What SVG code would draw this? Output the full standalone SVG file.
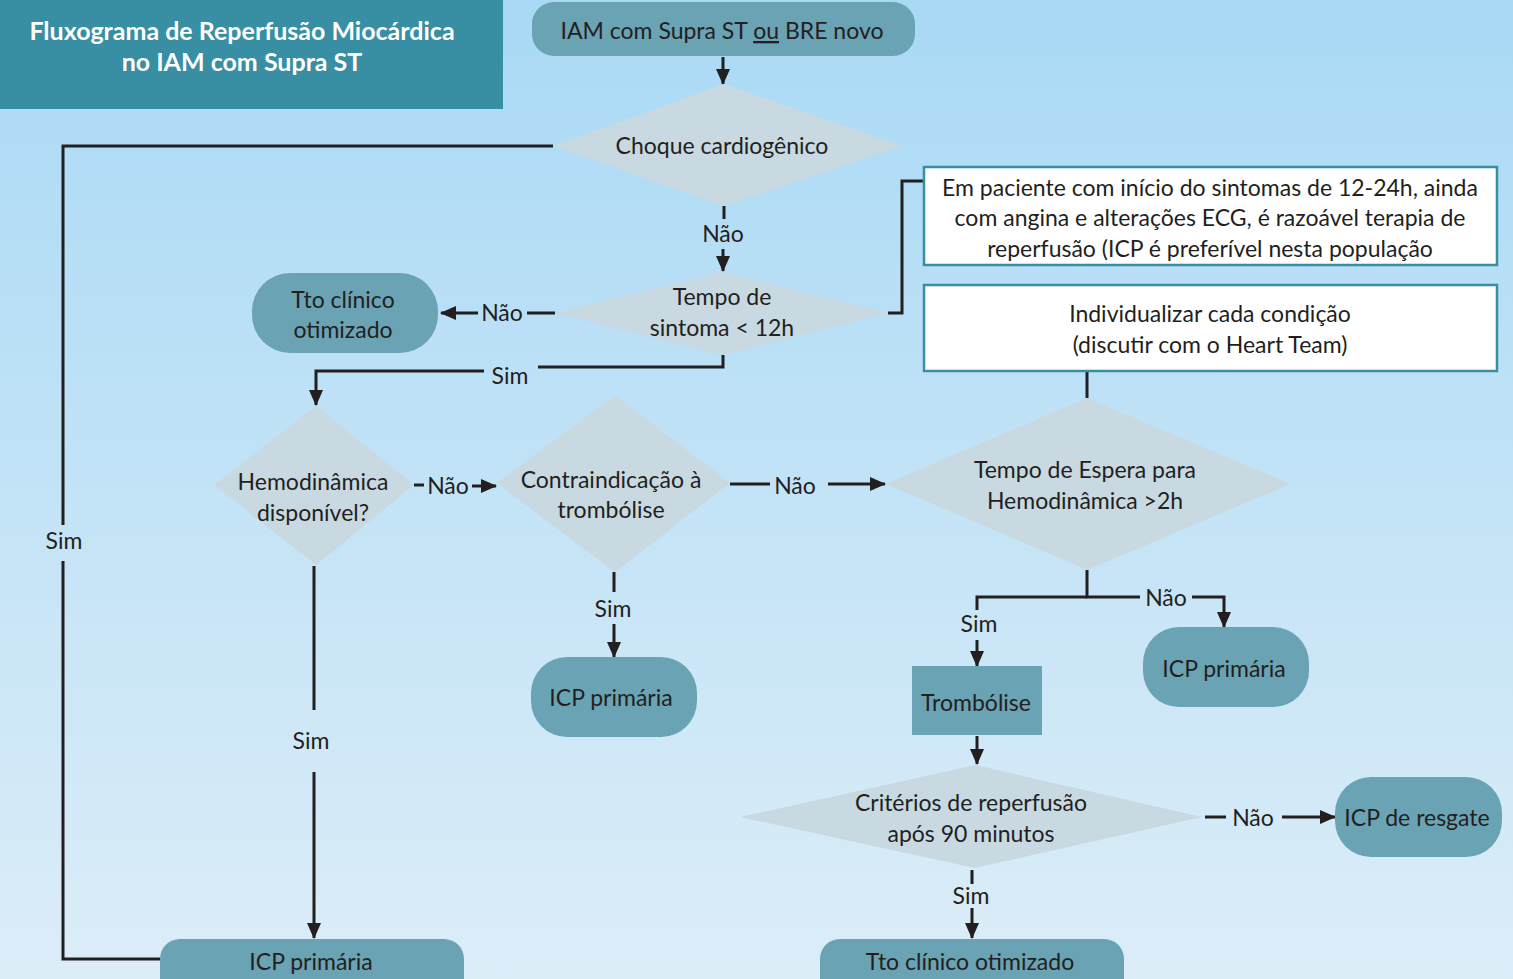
<svg xmlns="http://www.w3.org/2000/svg" width="1513" height="979" viewBox="0 0 1513 979">
<defs>
<linearGradient id="bg" x1="0" y1="0" x2="0" y2="1">
<stop offset="0" stop-color="#a9d9f5"/>
<stop offset="1" stop-color="#dcedf8"/>
</linearGradient>
<marker id="ah" markerWidth="16" markerHeight="16" refX="15" refY="8" orient="auto" markerUnits="userSpaceOnUse">
<path d="M0,1 L16,8 L0,15 Z" fill="#231f20"/>
</marker>
</defs>
<style>
text{font-family:Lato,"Open Sans","Liberation Sans",sans-serif;font-size:23px;fill:#231f20;text-anchor:middle}
.title{fill:#fff;font-weight:bold;font-size:25px}
.term{fill:#6aa3b4}
.dec{fill:#c8d9e1}
.note{fill:#fff;stroke:#3a8ea3;stroke-width:2.5}
.ln{fill:none;stroke:#231f20;stroke-width:3}
.ar{fill:none;stroke:#231f20;stroke-width:3;marker-end:url(#ah)}
</style>
<rect width="1513" height="979" fill="url(#bg)"/>
<g id="title">
<rect x="0" y="0" width="503" height="109" fill="#388ea3"/>
<text class="title" x="242" y="40">Fluxograma de Reperfusão Miocárdica</text>
<text class="title" x="242" y="71">no IAM com Supra ST</text>
</g>
<g id="connectors">
<path class="ar" d="M723,57 V84"/>
<path class="ln" d="M553,146 H63 V525"/>
<path class="ln" d="M63,561 V959 H160"/>
<path class="ln" d="M724,206 V219"/>
<path class="ar" d="M723,249 V271"/>
<path class="ln" d="M555,313 H527"/>
<path class="ar" d="M478,313 H441"/>
<path class="ln" d="M888,313 H902 V181 H924"/>
<path class="ln" d="M1087,371 V398"/>
<path class="ln" d="M723,355 V367 H538"/>
<path class="ar" d="M484,371 H316 V405"/>
<path class="ln" d="M414,485 H424"/>
<path class="ar" d="M472,486 H496"/>
<path class="ln" d="M730,484 H770"/>
<path class="ar" d="M828,484 H885"/>
<path class="ln" d="M314,566 V710"/>
<path class="ar" d="M314,772 V938"/>
<path class="ln" d="M614,572 V592"/>
<path class="ar" d="M614,624 V657"/>
<path class="ln" d="M1087,570 V597 H1140"/>
<path class="ar" d="M1192,597 H1224 V627"/>
<path class="ln" d="M1087,597 H977 V610"/>
<path class="ar" d="M977,640 V666"/>
<path class="ar" d="M977,736 V764"/>
<path class="ln" d="M1205,817 H1226"/>
<path class="ar" d="M1282,817 H1335"/>
<path class="ln" d="M972,870 V884"/>
<path class="ar" d="M972,908 V938"/>
</g>
<g id="labels">
<text x="723" y="242">Não</text>
<text x="502" y="321">Não</text>
<text x="510" y="384">Sim</text>
<text x="448" y="494">Não</text>
<text x="795" y="494">Não</text>
<text x="64" y="549">Sim</text>
<text x="311" y="749">Sim</text>
<text x="613" y="617">Sim</text>
<text x="1166" y="606">Não</text>
<text x="979" y="632">Sim</text>
<text x="1253" y="826">Não</text>
<text x="971" y="904">Sim</text>
</g>
<g id="start">
<rect class="term" x="532" y="2" width="383" height="54" rx="22"/>
<text x="722" y="39">IAM com Supra ST <tspan text-decoration="underline">ou</tspan> BRE novo</text>
</g>
<g id="choque">
<polygon class="dec" points="724,84 902,146 724,206 553,146"/>
<text x="722" y="154">Choque cardiogênico</text>
</g>
<g id="tempo-sintoma">
<polygon class="dec" points="723,272 888,313 723,355 555,313"/>
<text x="722" y="305">Tempo de</text>
<text x="722" y="336">sintoma &lt; 12h</text>
</g>
<g id="tto-clinico-1">
<rect class="term" x="252" y="273" width="186" height="80" rx="38"/>
<text x="343" y="308">Tto clínico</text>
<text x="343" y="338">otimizado</text>
</g>
<g id="nota-12-24h">
<rect class="note" x="924" y="167" width="573" height="98"/>
<text x="1210" y="196">Em paciente com início do sintomas de 12-24h, ainda</text>
<text x="1210" y="226">com angina e alterações ECG, é razoável terapia de</text>
<text x="1210" y="257">reperfusão (ICP é preferível nesta população</text>
</g>
<g id="nota-individualizar">
<rect class="note" x="924" y="285" width="573" height="86"/>
<text x="1210" y="322">Individualizar cada condição</text>
<text x="1210" y="353">(discutir com o Heart Team)</text>
</g>
<g id="hemodinamica">
<polygon class="dec" points="316,406 414,485 316,565 214,485"/>
<text x="313" y="490">Hemodinâmica</text>
<text x="313" y="521">disponível?</text>
</g>
<g id="contraindicacao">
<polygon class="dec" points="615,395 730,483 615,572 497,483"/>
<text x="611" y="488">Contraindicação à</text>
<text x="611" y="518">trombólise</text>
</g>
<g id="tempo-espera">
<polygon class="dec" points="1087,398 1290,484 1087,570 886,484"/>
<text x="1085" y="478">Tempo de Espera para</text>
<text x="1085" y="509">Hemodinâmica &gt;2h</text>
</g>
<g id="icp-primaria-1">
<rect class="term" x="160" y="939" width="304" height="60" rx="20"/>
<text x="311" y="970">ICP primária</text>
</g>
<g id="icp-primaria-2">
<rect class="term" x="531" y="657" width="166" height="80" rx="36"/>
<text x="611" y="706">ICP primária</text>
</g>
<g id="icp-primaria-3">
<rect class="term" x="1143" y="627" width="166" height="80" rx="36"/>
<text x="1224" y="677">ICP primária</text>
</g>
<g id="trombolise">
<rect class="term" x="912" y="666" width="130" height="69"/>
<text x="976" y="711">Trombólise</text>
</g>
<g id="criterios">
<polygon class="dec" points="975,765 1202,817 975,868 740,817"/>
<text x="971" y="811">Critérios de reperfusão</text>
<text x="971" y="842">após 90 minutos</text>
</g>
<g id="icp-resgate">
<rect class="term" x="1335" y="777" width="167" height="80" rx="36"/>
<text x="1417" y="826">ICP de resgate</text>
</g>
<g id="tto-clinico-2">
<rect class="term" x="820" y="939" width="304" height="60" rx="20"/>
<text x="970" y="970">Tto clínico otimizado</text>
</g>
</svg>
